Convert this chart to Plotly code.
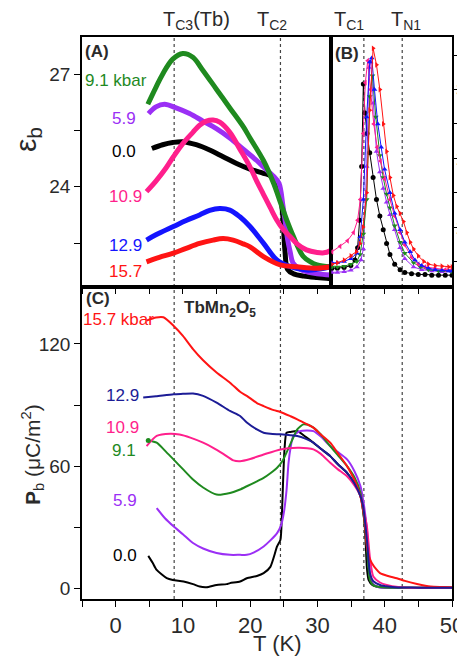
import plotly.graph_objects as go

# ---------------- data ----------------
# Panel A: epsilon_b (left scale), T in K
A_green_T = [4.8, 6, 7, 8.5, 10, 11.5, 13, 15, 17, 19, 20, 22, 23.5, 24.5, 25.5, 26.4, 27.9, 29, 30, 32]
A_green_v = [26.2, 26.65, 27.0, 27.4, 27.55, 27.45, 27.1, 26.6, 26.1, 25.6, 25.3, 24.7, 24.1, 23.6, 23.1, 22.7, 22.15, 22.0, 21.92, 21.87]
A_purple_T = [4.9, 6, 7.3, 9, 11, 13, 15, 17, 19, 21, 22, 23.5, 24.3, 24.9, 25.3, 25.6, 26.0, 26.4, 27.5, 28.4, 30, 32]
A_purple_v = [25.95, 26.13, 26.2, 26.1, 25.95, 25.75, 25.55, 25.3, 25.0, 24.7, 24.53, 24.28, 24.1, 23.5, 23.0, 22.6, 22.25, 21.97, 21.8, 21.74, 21.68, 21.65]
A_black_T = [5.4, 7, 8.5, 10, 12, 14, 16, 18, 20, 22, 23, 24, 24.5, 24.9, 25.2, 25.6, 26.5, 28, 30, 32]
A_black_v = [25.02, 25.12, 25.18, 25.2, 25.12, 24.98, 24.8, 24.62, 24.47, 24.36, 24.3, 24.15, 23.8, 23.2, 22.3, 21.8, 21.68, 21.62, 21.58, 21.55]
A_pink_T = [4.6, 6, 7.5, 8.6, 10, 11.5, 12.5, 13.5, 14.5, 15.5, 17, 18.5, 20, 21, 22, 23, 24, 25, 26, 27, 28.4, 30, 31, 32]
A_pink_v = [23.87, 24.15, 24.5, 24.8, 25.15, 25.45, 25.64, 25.75, 25.78, 25.72, 25.45, 25.0, 24.53, 24.15, 23.8, 23.45, 23.11, 22.85, 22.67, 22.48, 22.32, 22.25, 22.24, 22.3]
A_blue_T = [4.6, 6, 8.6, 10.5, 12.5, 14, 15.5, 17, 18.5, 20, 22, 24, 26, 28.4, 30, 32]
A_blue_v = [22.58, 22.72, 22.94, 23.1, 23.25, 23.37, 23.42, 23.38, 23.2, 22.94, 22.5, 22.05, 21.87, 21.78, 21.8, 21.87]
A_red_T = [4.6, 6.5, 8.6, 10.5, 12.5, 14.5, 16, 17.5, 19, 20, 22, 24.5, 27, 30, 32]
A_red_v = [22.0, 22.12, 22.23, 22.36, 22.49, 22.58, 22.62, 22.58, 22.48, 22.4, 22.14, 21.92, 21.87, 21.83, 21.87]

# Panel B: epsilon_b (right scale)
B_black_T = [32.2, 33, 34, 35, 35.6, 36.0, 36.3, 36.6, 36.85, 37.1, 37.4, 37.8, 38.3, 38.8, 39.3, 39.8, 40.3, 40.8, 41.5, 42.3, 43, 44, 45, 46, 47, 48, 49, 50]
B_black_v = [17.0, 17.0, 17.05, 17.2, 17.6, 18.5, 20.5, 24.4, 30.4, 28.3, 26.8, 25.4, 23.6, 22.0, 20.8, 19.8, 18.8, 18.0, 17.3, 16.9, 16.7, 16.6, 16.55, 16.55, 16.5, 16.5, 16.5, 16.5]
B_purple_T = [32.2, 33, 34, 35, 35.9, 36.5, 36.85, 37.35, 37.7, 37.95, 38.3, 38.8, 39.3, 39.8, 40.3, 40.8, 41.5, 42.3, 43, 44.3, 45.5, 47, 48.5, 50]
B_purple_v = [16.7, 16.7, 16.75, 16.85, 17.1, 17.6, 18.4, 24.4, 31.6, 32.0, 29.0, 25.5, 24.0, 22.8, 21.8, 20.9, 19.8, 18.5, 17.7, 17.1, 16.9, 16.8, 16.75, 16.75]
B_green_T = [32.2, 33, 34, 35, 35.9, 36.35, 36.85, 37.35, 37.8, 38.2, 38.7, 39.3, 39.8, 40.3, 40.8, 41.5, 42.3, 43, 44.3, 45.3, 46.5, 48, 50]
B_green_v = [17.1, 17.1, 17.15, 17.3, 17.5, 18.0, 19.5, 22.0, 29.5, 31.0, 28.0, 25.2, 23.6, 22.4, 21.4, 20.1, 18.9, 18.1, 17.4, 17.1, 16.9, 16.8, 16.75]
B_pink_T = [32.2, 33.4, 34.5, 35.4, 36.0, 36.4, 36.85, 37.15, 37.5, 37.9, 38.4, 38.9, 39.4, 40.0, 40.8, 41.5, 42.3, 43, 44, 45, 46, 47.5, 49, 50]
B_pink_v = [18.2, 18.6, 19.0, 19.6, 20.5, 22.0, 26.8, 30.5, 32.1, 30.0, 27.5, 25.8, 24.8, 23.5, 22.0, 20.8, 19.6, 18.7, 17.8, 17.3, 17.1, 17.0, 16.9, 16.9]
B_blue_T = [32.2, 33, 34, 35, 35.9, 36.4, 36.85, 37.35, 37.8, 38.1, 38.5, 39.0, 39.5, 40.0, 40.8, 41.5, 42.3, 43, 43.8, 44.5, 45.5, 46.5, 47.5, 48.5, 49.5, 50]
B_blue_v = [17.4, 17.4, 17.5, 17.7, 18.1, 19.3, 22.0, 28.0, 32.0, 32.3, 30.0, 27.5, 25.8, 24.2, 22.5, 21.0, 19.8, 18.9, 18.2, 17.6, 17.2, 17.0, 16.9, 16.85, 16.8, 16.8]
B_red_T = [32.2, 33, 34, 35, 35.8, 36.35, 36.8, 37.35, 37.8, 38.3, 38.8, 39.3, 39.8, 40.3, 40.8, 41.3, 41.8, 42.3, 42.8, 43.3, 43.8, 44.3, 45, 45.8, 46.5, 47.5, 48.5, 49.5, 50]
B_red_v = [17.3, 17.4, 17.6, 17.9, 18.2, 18.8, 20.0, 22.5, 28.5, 33.0, 31.8, 30.0, 27.5, 25.5, 23.6, 22.3, 21.5, 21.0, 20.4, 19.6, 18.9, 18.4, 17.9, 17.5, 17.3, 17.2, 17.15, 17.1, 17.1]

# Panel C: P_b (uC/m^2)
C_red_T = [4.6, 6, 7.1, 8.6, 10, 11.5, 13, 15, 17, 18.5, 19.5, 21, 22, 23.5, 24.5, 26, 27, 28.5, 29.4, 30.5, 31.9, 33, 34.4, 35.3, 35.9, 36.4, 36.85, 37.1, 37.35, 37.7, 38.1, 38.7, 39.3, 40.5, 41.8, 43, 44.8, 46.8, 48.5, 50]
C_red_v = [131.5, 133, 133.1, 129, 124, 117.5, 112, 106, 101, 96.5, 94.5, 91, 89.5, 87.5, 86.6, 84.5, 83, 80.5, 78.9, 75.5, 71.5, 66.5, 60, 54.5, 50.1, 45, 37, 30, 20.5, 15, 12.3, 9.5, 7.4, 6.0, 4.9, 3.6, 2.1, 0.8, 0.6, 0.5]
C_blue_T = [4.1, 6, 8.6, 10, 11.5, 13, 15, 17, 18.5, 19.5, 21, 22, 23, 24.5, 26, 27, 28.2, 29.4, 30.5, 31.9, 33, 34.4, 35.5, 36.4, 36.8, 37.1, 37.4, 37.8, 38.3, 39.3, 40.5, 42, 44, 46, 48, 50]
C_blue_v = [93.7, 94.3, 95.3, 95.5, 95.7, 94.5, 91.2, 87.1, 84.6, 81.4, 78.0, 76.4, 75.9, 75.6, 75.2, 74.8, 73.5, 71.5, 68.5, 64.9, 61.0, 56.7, 51.5, 45.2, 40, 32, 22, 7.4, 3.5, 1.6, 0.8, 0.4, 0.3, 0.2, 0.2, 0.2]
C_pink_T = [4.6, 6.1, 8.1, 9.5, 11.1, 13, 14.5, 16, 17.5, 18.5, 20, 22, 24.5, 27, 28.5, 29.4, 30.5, 31.9, 33, 34.4, 35.5, 36.4, 36.9, 37.35, 37.8, 38.3, 39.3, 40.3, 42, 45, 50]
C_pink_v = [69.8, 74.8, 75.9, 75.5, 74, 71.5, 69, 66, 62.8, 62.4, 63.5, 65.7, 68.2, 69, 68.8, 68.2, 66, 61.6, 58.5, 55, 50.5, 45.2, 38, 30.4, 15, 5.7, 2.8, 1.6, 0.6, 0.2, 0.2]
C_green_T = [4.85, 6.1, 7.5, 8.6, 10, 11.5, 13, 15, 17, 18.5, 19.5, 21, 22, 23, 24, 24.8, 25.4, 26.2, 27, 27.9, 28.6, 29.4, 30.5, 31.9, 33, 34.4, 35.5, 36.4, 36.9, 37.35, 37.8, 38.3, 39, 40, 42, 45, 50]
C_green_v = [72.6, 71.5, 67.0, 63.3, 58.5, 53.4, 49.5, 46, 46.8, 48.5, 50.1, 52.5, 54.2, 56.5, 59.2, 62.5, 66.6, 72.5, 78.1, 80.5, 80.3, 78.9, 75.5, 69.8, 65.5, 60, 54.5, 46.8, 35, 20.5, 4.1, 1.5, 0.7, 0.4, 0.2, 0.2, 0.2]
C_purple_T = [6.1, 7.3, 8.6, 10, 11.5, 13, 15, 17, 18.5, 19.5, 20.5, 22, 23, 24, 24.6, 25, 25.4, 25.7, 26.0, 26.4, 27.4, 28.5, 29.4, 30.5, 31.9, 33, 34.4, 35.5, 36.4, 36.9, 37.35, 37.8, 38.3, 39, 40, 42, 45, 50]
C_purple_v = [39.4, 34.5, 30.4, 26.5, 22.2, 19.5, 17.3, 16.4, 16.4, 16.4, 17.5, 20.5, 23.5, 27.1, 31, 37, 48, 61.6, 69, 74.8, 77.2, 77.5, 77.2, 74.5, 69.8, 67, 63.3, 57.5, 50.1, 41, 28.7, 7.4, 2.0, 0.6, 0.2, 0.1, 0.1, 0.1]
C_black_T = [4.85, 5.5, 6.1, 7.6, 8.5, 10.1, 11.5, 12.5, 13.5, 15, 16.5, 17, 18.5, 19.5, 21, 22, 23, 24, 24.5, 24.7, 24.9, 25.1, 25.4, 26, 27, 28.2, 29.4, 30.5, 31.9, 33, 34.4, 35.5, 36.4, 36.9, 37.1, 37.35, 37.6, 38.2, 39, 40, 42, 45, 50]
C_black_v = [15.9, 12.5, 9, 4.9, 4.0, 3.3, 2.0, 0.8, 0.5, 1.6, 2.0, 2.5, 3.3, 4.9, 6.0, 7.4, 10.5, 20.5, 23.8, 35, 53.4, 68, 76.4, 76.8, 77.2, 74.5, 71.5, 68.5, 64.9, 61, 56.7, 51.5, 45.2, 35, 27.1, 10, 4.1, 1.5, 0.6, 0.3, 0.2, 0.2, 0.2]

# transition temperatures (dotted lines) and their labels
T_lines = [8.7, 24.5, 36.9, 42.6]
T_labels = ["T<sub>C3</sub>(Tb)", "T<sub>C2</sub>", "T<sub>C1</sub>", "T<sub>N1</sub>"]
T_label_x = [11.95, 23.3, 34.7, 43.2]

# tick values
A_yticks = [22.5, 24, 25.5, 27]
A_yticktext = ["", "24", "", "27"]
B_yticks = [17.5, 20, 22.5, 25, 27.5, 30, 32.5]
B_label_vals = [20, 25, 30]
B_label_text = ["20", "25", "30"]
C_yticks = [0, 30, 60, 90, 120]
C_yticktext = ["0", "", "60", "", "120"]

# ---------------- colours ----------------
GREEN = "#1f8a1f"
PURPLE = "#9b2ff5"
BLACK = "#000000"
PINK = "#ff1f8c"
BLUE = "#1414ff"
NAVY = "#1c1c96"
RED = "#ff1414"
TXT = "#2a2a2a"
FONT = "Liberation Sans, Arial, sans-serif"

fig = go.Figure()

# Panel A thick bands
for T, v, c in [(A_black_T, A_black_v, BLACK), (A_purple_T, A_purple_v, PURPLE),
                (A_green_T, A_green_v, GREEN), (A_pink_T, A_pink_v, PINK),
                (A_blue_T, A_blue_v, BLUE), (A_red_T, A_red_v, RED)]:
    fig.add_trace(go.Scatter(x=T, y=v, mode="lines", line=dict(color=c, width=5, shape="spline"),
                             xaxis="x", yaxis="y", showlegend=False, hoverinfo="skip"))

# Panel B: markers + thin lines
for T, v, c, s in [(B_black_T, B_black_v, BLACK, "circle"), (B_purple_T, B_purple_v, PURPLE, "triangle-up"),
                   (B_green_T, B_green_v, GREEN, "triangle-down"), (B_pink_T, B_pink_v, PINK, "triangle-left"),
                   (B_blue_T, B_blue_v, BLUE, "triangle-up"), (B_red_T, B_red_v, RED, "triangle-right")]:
    fig.add_trace(go.Scatter(x=T, y=v, mode="lines+markers", line=dict(color=c, width=1),
                             marker=dict(color=c, size=5, symbol=s),
                             xaxis="x2", yaxis="y2", showlegend=False, hoverinfo="skip"))

# Panel C lines
for T, v, c in [(C_black_T, C_black_v, BLACK), (C_purple_T, C_purple_v, PURPLE),
                (C_green_T, C_green_v, GREEN), (C_pink_T, C_pink_v, PINK),
                (C_red_T, C_red_v, RED), (C_blue_T, C_blue_v, NAVY)]:
    fig.add_trace(go.Scatter(x=T, y=v, mode="lines", line=dict(color=c, width=2, shape="spline", smoothing=0.6),
                             xaxis="x3", yaxis="y3", showlegend=False, hoverinfo="skip"))
# small marker at start of 9.1 curve
fig.add_trace(go.Scatter(x=C_green_T[:1], y=C_green_v[:1], mode="markers",
                         marker=dict(color=GREEN, size=5), xaxis="x3", yaxis="y3",
                         showlegend=False, hoverinfo="skip"))

# ---------------- layout ----------------
# page body has an 8 px margin, so the figure starts at page pixel (8, 8)
OFF = 8
W, H = 465 - OFF, 657 - OFF
ML, MR, MT, MB = 82 - OFF, 13, 37 - OFF, 58
PH = H - MT - MB
PW = W - ML - MR
split_y = (599 - 287) / PH
split_x = (331.3 - 82) / PW

axline = dict(showline=True, linecolor="black", linewidth=1.5, mirror=True,
              showgrid=False, zeroline=False, automargin=False)
plain = dict(showline=False, showgrid=False, zeroline=False, automargin=False,
             showticklabels=False, tickcolor="black")

fig.update_layout(
    width=W, height=H,
    margin=dict(l=ML, r=MR, t=MT, b=MB, autoexpand=False),
    paper_bgcolor="white", plot_bgcolor="rgba(0,0,0,0)",
    font=dict(family=FONT, color=TXT),
    xaxis=dict(domain=[0, split_x], range=[-5, 32.1], anchor="y", ticks="outside", ticklen=5,
               tick0=0, dtick=5, showticklabels=False, tickcolor="black", **axline),
    xaxis4=dict(overlaying="x", side="top", anchor="y", range=[-5, 32.1], ticks="inside", ticklen=5,
                tick0=0, dtick=5, **plain),
    xaxis2=dict(domain=[split_x, 1], range=[32.1, 50], anchor="y2", ticks="outside", ticklen=5,
                tick0=0, dtick=5, showticklabels=False, tickcolor="black", **axline),
    xaxis5=dict(overlaying="x2", side="top", anchor="y2", range=[32.1, 50], ticks="inside", ticklen=5,
                tick0=0, dtick=5, **plain),
    xaxis3=dict(domain=[0, 1], range=[-5, 50], anchor="y3", ticks="outside", ticklen=6,
                tick0=0, dtick=10, tickfont=dict(size=22, color=TXT), tickcolor="black",
                ticklabeloverflow="allow",
                minor=dict(dtick=5, tick0=0, ticks="outside", ticklen=6, tickcolor="black"),
                **axline),
    yaxis=dict(domain=[split_y, 1], range=[21.33, 27.99], anchor="x", ticks="outside", ticklen=6,
               tickvals=A_yticks, ticktext=A_yticktext, tickfont=dict(size=19, color=TXT),
               tickcolor="black", **axline),
    yaxis2=dict(domain=[split_y, 1], range=[15.64, 33.82], anchor="x2", side="right", ticks="outside",
                ticklen=4, tickvals=B_yticks, showticklabels=False, tickcolor="black", **axline),
    yaxis3=dict(domain=[0, split_y], range=[-5.3, 148], anchor="x3", ticks="outside", ticklen=6,
                tickvals=C_yticks, ticktext=C_yticktext, tickfont=dict(size=19, color=TXT),
                tickcolor="black", **axline),
    yaxis4=dict(overlaying="y3", side="right", anchor="x3", range=[-5.3, 148], ticks="inside", ticklen=5,
                tickvals=C_yticks[1:], **plain),
)

# dotted transition lines
for t in T_lines:
    fig.add_shape(type="line", xref="x3", yref="paper", x0=t, x1=t, y0=0, y1=1,
                  line=dict(color="#444444", width=1.2, dash="dot"), layer="below")


def px(xp):
    # page pixel x -> paper fraction
    return (xp - 82) / PW


def py(yp):
    # page pixel y -> paper fraction
    return (599 - yp) / PH


def ann(text, x, y, color=TXT, size=17, xanchor="left", angle=0, xref="paper"):
    fig.add_annotation(text=text, x=x, y=py(y), xref=xref, yref="paper", showarrow=False,
                       xanchor=xanchor, yanchor="middle", textangle=angle,
                       font=dict(family=FONT, size=size, color=color))


# right-hand tick labels of panel B (clipped by the page edge, as in the original)
for val, txt in zip(B_label_vals, B_label_text):
    fig.add_annotation(text=txt, x=px(455), y=val, xref="paper", yref="y2", showarrow=False,
                       xanchor="left", yanchor="middle", borderpad=0,
                       font=dict(family=FONT, size=19, color=TXT))

# top labels
for lab, xl in zip(T_labels, T_label_x):
    ann(lab, xl, 20, size=20, xanchor="center", xref="x3")

# panel A labels
ann("<b>(A)</b>", px(83), 52, size=17)
ann("9.1 kbar", px(149), 81, GREEN, 17, "right")
ann("5.9", px(138), 118, PURPLE, 17, "right")
ann("0.0", px(138), 152, BLACK, 17, "right")
ann("10.9", px(144), 197, PINK, 17, "right")
ann("12.9", px(144), 245, BLUE, 17, "right")
ann("15.7", px(144), 271, RED, 17, "right")
# panel B
ann("<b>(B)</b>", px(333), 53, size=17)
# panel C
ann("<b>(C)</b>", px(84), 298, size=17)
ann("<b>TbMn<sub>2</sub>O<sub>5</sub></b>", px(182), 309, size=17)
ann("15.7 kbar", px(156), 319, RED, 17, "right")
ann("12.9", px(141), 395, NAVY, 17, "right")
ann("10.9", px(141), 427, PINK, 17, "right")
ann("9.1", px(138), 450, GREEN, 17, "right")
ann("5.9", px(139), 500, PURPLE, 17, "right")
ann("0.0", px(139), 555, BLACK, 17, "right")

# axis titles
ann("ε<sub>b</sub>", px(27), 140, TXT, 30, "center", -90)
ann("<b>P</b><sub>b</sub> (μC/m<sup>2</sup>)", px(33), 455, TXT, 21, "center", -90)
ann("T (K)", px(277), 643, TXT, 22, "center")

fig.write_html("out.html")
